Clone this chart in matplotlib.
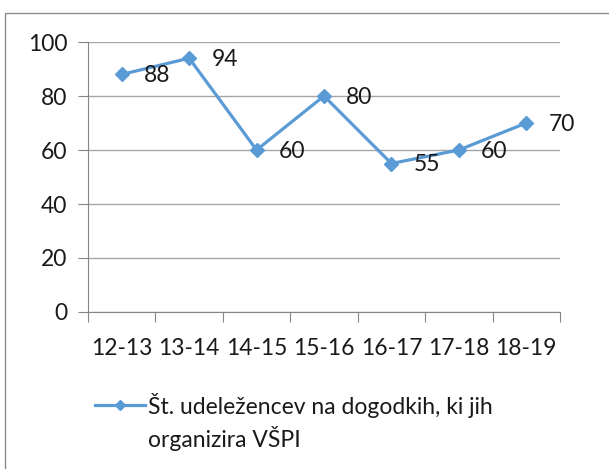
import matplotlib
matplotlib.use("Agg")
import matplotlib.pyplot as plt
from matplotlib.patches import Rectangle
from matplotlib.lines import Line2D

seasons = ["12-13", "13-14", "14-15", "15-16", "16-17", "17-18", "18-19"]
attendees = [88, 94, 60, 80, 55, 60, 70]
series_name = "Št. udeležencev na dogodkih, ki jih\norganizira VŠPI"
y_ticks = [0, 20, 40, 60, 80, 100]

plt.rcParams["font.family"] = ["Lato", "DejaVu Sans"]

blue = "#5B9BD5"
axis_col = "#868686"
grid_col = "#A6A6A6"
txt_col = "#1a1a1a"
fs = 16.5

fig = plt.figure(figsize=(6.09, 4.69), dpi=100)
W, H = 609, 469

# chart area frame (cropped on right and bottom)
fig.patches.append(Rectangle((5 / W, -0.1), 1.1, 1.1 - 13 / H,
                             transform=fig.transFigure, fill=False,
                             edgecolor="#8C8C8C", lw=1.0))

ax = fig.add_axes([88 / W, 1 - 312 / H, (560 - 88) / W, (312 - 42) / H])
x = list(range(len(seasons)))
ax.plot(x, attendees, color=blue, lw=2.3, marker="D", ms=7, zorder=3)

for xi, v in zip(x, attendees):
    ax.annotate(str(v), (xi, v), xytext=(16, -1), textcoords="offset points",
                ha="left", va="center", fontsize=fs, color=txt_col)

ax.set_xlim(-0.5, len(seasons) - 0.5)
ax.set_ylim(0, 100)
ax.set_yticks(y_ticks)
ax.set_xticks([i - 0.5 for i in range(len(seasons) + 1)], minor=False)
ax.set_xticklabels([])
ax.set_xticks(x, minor=True)
ax.set_xticklabels(seasons, minor=True)
ax.tick_params(axis="x", which="minor", length=0, pad=19, labelsize=fs,
               labelcolor=txt_col)
ax.tick_params(axis="x", which="major", length=7, color=axis_col)
ax.tick_params(axis="y", length=7, color=axis_col, pad=8, labelsize=fs,
               labelcolor=txt_col)
ax.yaxis.grid(True, color=grid_col, lw=1)
ax.set_axisbelow(True)
for s in ["top", "right"]:
    ax.spines[s].set_visible(False)
for s in ["left", "bottom"]:
    ax.spines[s].set_color(axis_col)

# legend, handle aligned with the first text line
ly = 1 - 405 / H
fig.add_artist(Line2D([95 / W, 145 / W], [ly, ly], color=blue, lw=2.3,
                      transform=fig.transFigure))
fig.add_artist(Line2D([120 / W], [ly], color=blue, marker="D", ms=5,
                      transform=fig.transFigure))
for i, line in enumerate(series_name.split("\n")):
    fig.text(148 / W, 1 - (405 + 33 * i) / H, line, fontsize=fs,
             color=txt_col, ha="left", va="center")

fig.savefig("out.png", dpi=100)
